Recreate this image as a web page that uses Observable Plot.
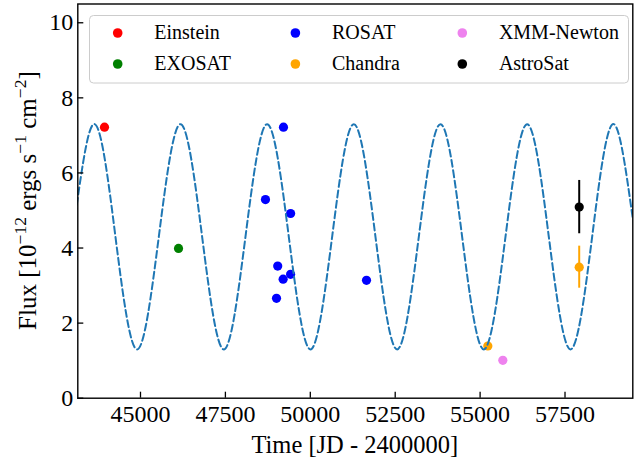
<!DOCTYPE html>
<html>
<head>
<meta charset="utf-8">
<script src="https://cdn.jsdelivr.net/npm/d3@7"></script>
<script src="https://cdn.jsdelivr.net/npm/@observablehq/plot@0.6"></script>
<style>
  body { margin: 0; background: #fff; }
  #wrap { position: relative; width: 640px; height: 460px; }
  #wrap svg text { font-family: 'Liberation Serif', 'Times New Roman', serif; }
</style>
</head>
<body>
<div id="wrap"></div>
<script>
// ---- legend categories ----
const missions = ["Einstein", "EXOSAT", "ROSAT", "Chandra", "XMM-Newton", "AstroSat"];
const missionColors = ["red", "green", "blue", "orange", "violet", "black"];

const obsMission = ["Einstein", "EXOSAT", "ROSAT", "ROSAT", "ROSAT", "ROSAT", "ROSAT", "ROSAT", "ROSAT", "ROSAT",
                    "Chandra", "XMM-Newton", "Chandra", "AstroSat"];
const obsTime = [43940, 46120, 49210, 48680, 49420, 49040, 49200, 49420, 49005, 51655,
                 55227, 55669, 57918, 57918];
const obsFlux = [7.22, 3.99, 7.22, 5.29, 4.92, 3.52, 3.17, 3.30, 2.66, 3.14,
                 1.39, 1.01, 3.49, 5.09];
const obsErr  = [0, 0, 0, 0, 0, 0, 0, 0, 0, 0,
                 0, 0, 0.56, 0.71];

// ---- dashed model curve: extrema and mid-level crossings ----
const modelTime = [42349, 42987, 43625, 44263, 44901, 45539, 46177, 46815, 47453, 48091,
                   48729, 49367, 50005, 50643, 51281, 51919, 52557, 53195, 53833, 54471,
                   55109, 55747, 56385, 57023, 57661, 58299, 58937, 59575, 60213];
const modelFlux = [1.30, 4.30, 7.30, 4.30, 1.30, 4.30, 7.30, 4.30, 1.30, 4.30,
                   7.30, 4.30, 1.30, 4.30, 7.30, 4.30, 1.30, 4.30, 7.30, 4.30,
                   1.30, 4.30, 7.30, 4.30, 1.30, 4.30, 7.30, 4.30, 1.30];

// ---- axes ----
const xTicks = [45000, 47500, 50000, 52500, 55000, 57500];
const yTicks = [0, 2, 4, 6, 8, 10];
const xDomain = [43154, 59496];
const yDomain = [0, 10.5];

// ---- build tables ----
const colorOf = Object.fromEntries(missions.map((m, i) => [m, missionColors[i]]));
const obs = obsTime.map((t, i) => ({t, f: obsFlux[i], e: obsErr[i], m: obsMission[i], c: colorOf[obsMission[i]]}));
const obsErrRows = obs.filter(d => d.e > 0);
const model = modelTime.map((t, i) => ({t, f: modelFlux[i]}));

const W = 640, H = 460;
const mL = 77.3, mR = 7.7, mT = 3.5, mB = 62.3;
const frameW = W - mL - mR, frameH = H - mT - mB;
const FONT = "'Liberation Serif', 'Times New Roman', serif";

const chart = Plot.plot({
  width: W,
  height: H,
  marginLeft: mL,
  marginRight: mR,
  marginTop: mT,
  marginBottom: mB,
  style: {fontFamily: FONT, fontSize: "24px", background: "#fff", color: "black"},
  x: {domain: xDomain, label: null},
  y: {domain: yDomain, label: null},
  marks: [
    Plot.ruleX(obsErrRows, {x: "t", y1: d => d.f - d.e, y2: d => d.f + d.e, stroke: "c", strokeWidth: 2}),
    Plot.dot(obs, {x: "t", y: "f", r: 4.6, fill: "c", stroke: null}),
    Plot.line(model, {x: "t", y: "f", curve: "natural", stroke: "#1f77b4", strokeWidth: 2,
                      strokeDasharray: "7,3.5", clip: true}),
    Plot.ruleX(xTicks, {x: d => d, insetTop: frameH - 6, stroke: "black", strokeWidth: 1.3}),
    Plot.ruleY(yTicks, {y: d => d, insetRight: frameW - 6, stroke: "black", strokeWidth: 1.3}),
    Plot.axisX({ticks: xTicks, tickSize: 0, tickPadding: 6.5, fontSize: 24, fontFamily: FONT,
                fontVariant: "normal", tickFormat: d => String(d), label: null}),
    Plot.axisY({ticks: yTicks, tickSize: 0, tickPadding: 4.5, fontSize: 24, fontFamily: FONT,
                fontVariant: "normal", tickFormat: d => String(d), label: null}),
    Plot.frame({stroke: "black", strokeWidth: 1.4})
  ]
});

document.getElementById("wrap").appendChild(chart);

// ---- axis titles and legend (text) ----
const svg = d3.select(chart);
svg.selectAll("text").attr("font-family", FONT).style("font-family", FONT);

svg.append("text")
  .attr("x", mL + frameW / 2).attr("y", 453)
  .attr("text-anchor", "middle")
  .style("font-family", FONT).style("font-size", "24.5px")
  .attr("fill", "black")
  .text("Time [JD - 2400000]");

const yl = svg.append("text")
  .attr("transform", `translate(36,${mT + frameH / 2}) rotate(-90)`)
  .attr("text-anchor", "middle")
  .style("font-family", FONT).style("font-size", "25px")
  .attr("fill", "black");
const parts = [["Flux [10", 0], ["\u221212", 1], [" ergs s", 0], ["\u22121", 1], [" cm", 0], ["\u22122", 1], ["]", 0]];
let prevSup = 0;
for (const [s, sup] of parts) {
  const ts = yl.append("tspan").text(s);
  const dy = (sup ? -10 : 0) - (prevSup ? -10 : 0);
  if (dy) ts.attr("dy", dy);
  if (sup) ts.style("font-size", "17.5px");
  prevSup = sup;
}

// legend box
const lg = svg.append("g");
lg.append("rect")
  .attr("x", 89.5).attr("y", 15.5).attr("width", 539).attr("height", 67.5)
  .attr("rx", 4).attr("ry", 4)
  .attr("fill", "rgba(255,255,255,0.8)").attr("stroke", "#cccccc").attr("stroke-width", 1);
const legCols = [117.7, 295.4, 462.3];
const legRows = [33, 64];
const legTextOffset = 36.6;
missions.forEach((m, i) => {
  const col = Math.floor(i / 2), row = i % 2;
  const cx = legCols[col], cy = legRows[row];
  lg.append("circle").attr("cx", cx).attr("cy", cy).attr("r", 4.8).attr("fill", missionColors[i]);
  lg.append("text")
    .attr("x", cx + legTextOffset).attr("y", cy + 6.2)
    .attr("text-anchor", "start")
    .style("font-family", FONT).style("font-size", "20px")
    .attr("fill", "black")
    .text(m);
});
</script>
</body>
</html>
